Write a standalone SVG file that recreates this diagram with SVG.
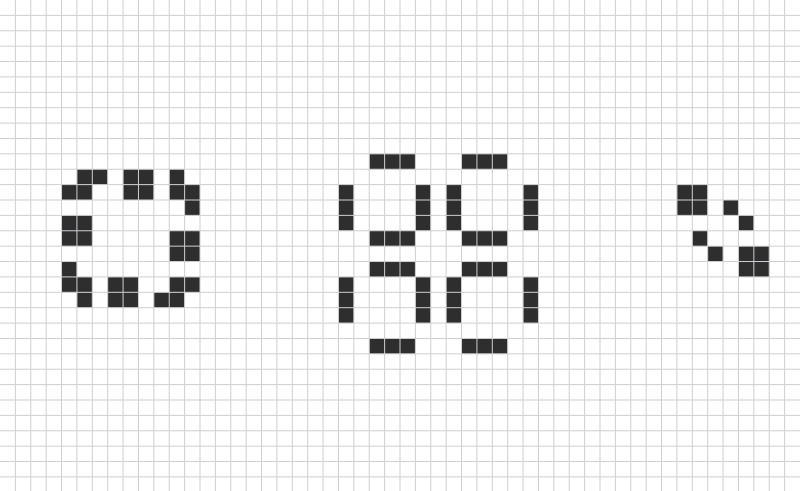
<svg xmlns="http://www.w3.org/2000/svg" width="800" height="491" viewBox="0 0 800 491">
<style>
.c{fill:#2e2e2e}
.g{fill:none;stroke:#cfcfd4;stroke-width:1}
</style>
<rect width="800" height="491" fill="#ffffff"/>
<g transform="scale(15.384615)">
<g id="pattern-left">
<rect class="c" x="5" y="11" width="2" height="1"/><rect class="c" x="8" y="11" width="2" height="1"/><rect class="c" x="11" y="11" width="1" height="1"/>
<rect class="c" x="4" y="12" width="2" height="1"/><rect class="c" x="8" y="12" width="2" height="1"/><rect class="c" x="11" y="12" width="2" height="1"/>
<rect class="c" x="12" y="13" width="1" height="1"/>
<rect class="c" x="4" y="14" width="2" height="2"/>
<rect class="c" x="11" y="15" width="2" height="2"/>
<rect class="c" x="4" y="17" width="1" height="1"/>
<rect class="c" x="4" y="18" width="2" height="1"/><rect class="c" x="7" y="18" width="2" height="2"/><rect class="c" x="11" y="18" width="2" height="1"/>
<rect class="c" x="5" y="19" width="1" height="1"/><rect class="c" x="10" y="19" width="2" height="1"/>
</g>
<g id="pattern-middle">
<rect class="c" x="24" y="10" width="3" height="1"/><rect class="c" x="30" y="10" width="3" height="1"/>
<rect class="c" x="22" y="12" width="1" height="3"/><rect class="c" x="27" y="12" width="1" height="3"/><rect class="c" x="29" y="12" width="1" height="3"/><rect class="c" x="34" y="12" width="1" height="3"/>
<rect class="c" x="24" y="15" width="3" height="1"/><rect class="c" x="30" y="15" width="3" height="1"/>
<rect class="c" x="24" y="17" width="3" height="1"/><rect class="c" x="30" y="17" width="3" height="1"/>
<rect class="c" x="22" y="18" width="1" height="3"/><rect class="c" x="27" y="18" width="1" height="3"/><rect class="c" x="29" y="18" width="1" height="3"/><rect class="c" x="34" y="18" width="1" height="3"/>
<rect class="c" x="24" y="22" width="3" height="1"/><rect class="c" x="30" y="22" width="3" height="1"/>
</g>
<g id="pattern-right">
<rect class="c" x="44" y="12" width="2" height="2"/><rect class="c" x="47" y="13" width="1" height="1"/>
<rect class="c" x="48" y="14" width="1" height="1"/><rect class="c" x="45" y="15" width="1" height="1"/>
<rect class="c" x="46" y="16" width="1" height="1"/><rect class="c" x="48" y="16" width="2" height="2"/>
</g>
<g id="grid">
<path class="g" vector-effect="non-scaling-stroke" d="M1 0V32M2 0V32M3 0V32M4 0V32M5 0V32M6 0V32M7 0V32M8 0V32M9 0V32M10 0V32M11 0V32M12 0V32M13 0V32M14 0V32M15 0V32M16 0V32M17 0V32M18 0V32M19 0V32M20 0V32M21 0V32M22 0V32M23 0V32M24 0V32M25 0V32M26 0V32M27 0V32M28 0V32M29 0V32M30 0V32M31 0V32M32 0V32M33 0V32M34 0V32M35 0V32M36 0V32M37 0V32M38 0V32M39 0V32M40 0V32M41 0V32M42 0V32M43 0V32M44 0V32M45 0V32M46 0V32M47 0V32M48 0V32M49 0V32M50 0V32M51 0V32M0 1H52M0 2H52M0 3H52M0 4H52M0 5H52M0 6H52M0 7H52M0 8H52M0 9H52M0 10H52M0 11H52M0 12H52M0 13H52M0 14H52M0 15H52M0 16H52M0 17H52M0 18H52M0 19H52M0 20H52M0 21H52M0 22H52M0 23H52M0 24H52M0 25H52M0 26H52M0 27H52M0 28H52M0 29H52M0 30H52M0 31H52"/>
</g>
</g>
</svg>
